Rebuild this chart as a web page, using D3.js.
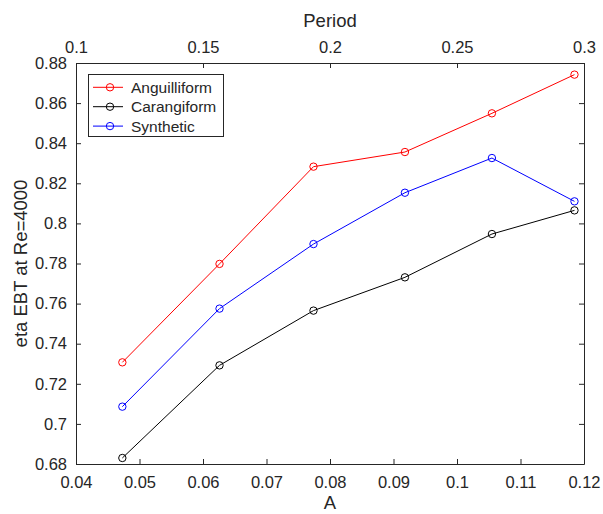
<!DOCTYPE html>
<html><head><meta charset="utf-8">
<script src="https://cdn.jsdelivr.net/npm/d3@7"></script>
<style>body{margin:0;background:#fff}svg{display:block}text{font-family:"Liberation Sans",Arial,sans-serif;fill:#262626}</style>
</head><body>
<script>
const aValues = [0.0473, 0.0626, 0.0774, 0.0918, 0.1055, 0.1185];
const anguilliform = [0.7307, 0.7798, 0.8283, 0.8356, 0.8549, 0.8742];
const carangiform = [0.6830, 0.7292, 0.7565, 0.7731, 0.7947, 0.8065];
const synthetic = [0.7086, 0.7575, 0.7897, 0.8153, 0.8326, 0.8110];
const seriesNames = ["Anguilliform", "Carangiform", "Synthetic"];
const seriesColors = ["#ff0000", "#000000", "#0000ff"];
const xTicks = [0.04, 0.05, 0.06, 0.07, 0.08, 0.09, 0.1, 0.11, 0.12];
const xTickLabels = ["0.04","0.05","0.06","0.07","0.08","0.09","0.1","0.11","0.12"];
const periodTicks = [0.1, 0.15, 0.2, 0.25, 0.3];
const periodTickLabels = ["0.1","0.15","0.2","0.25","0.3"];
const yTicks = [0.68,0.70,0.72,0.74,0.76,0.78,0.80,0.82,0.84,0.86,0.88];
const yTickLabels = ["0.68","0.7","0.72","0.74","0.76","0.78","0.8","0.82","0.84","0.86","0.88"];

const W = 603, H = 514;
const L = 76, R = 584, T = 63, B = 464;
const svg = d3.select("body").append("svg").attr("width", W).attr("height", H);
const x = d3.scaleLinear().domain([0.04, 0.12]).range([L, R]);
const xp = d3.scaleLinear().domain([0.1, 0.3]).range([L, R]);
const y = d3.scaleLinear().domain([0.68, 0.88]).range([B, T]);
const axisColor = "#262626";
const tickFont = "16.5px";

function styleAxis(g) {
  g.selectAll("path").attr("stroke", axisColor).attr("stroke-width", 1);
  g.selectAll("line").attr("stroke", axisColor).attr("stroke-width", 1);
  g.selectAll("text").style("font-size", tickFont).attr("fill", axisColor);
}
const fmt = (labels, ticks) => (d) => labels[ticks.findIndex(t => Math.abs(t - d) < 1e-9)];

svg.append("g").attr("transform", `translate(0,${B})`)
  .call(d3.axisBottom(x).tickValues(xTicks).tickFormat(fmt(xTickLabels, xTicks)).tickSizeInner(-5).tickSizeOuter(0).tickPadding(12))
  .call(styleAxis);
svg.append("g").attr("transform", `translate(0,${T})`)
  .call(d3.axisTop(xp).tickValues(periodTicks).tickFormat(fmt(periodTickLabels, periodTicks)).tickSizeInner(-5).tickSizeOuter(0).tickPadding(10))
  .call(styleAxis);
svg.append("g").attr("transform", `translate(${L},0)`)
  .call(d3.axisLeft(y).tickValues(yTicks).tickFormat(fmt(yTickLabels, yTicks)).tickSizeInner(-5).tickSizeOuter(0).tickPadding(9))
  .call(styleAxis);
svg.append("g").attr("transform", `translate(${R},0)`)
  .call(d3.axisRight(y).tickValues(yTicks).tickFormat("").tickSizeInner(-5).tickSizeOuter(0))
  .call(styleAxis);

svg.append("text").attr("x", 330).attr("y", 509).attr("text-anchor", "middle")
  .style("font-size", "18.5px").text("A");
svg.append("text").attr("x", (L + R) / 2).attr("y", 27).attr("text-anchor", "middle")
  .style("font-size", "18.5px").text("Period");
svg.append("text").attr("transform", `translate(27,${(T + B) / 2}) rotate(-90)`).attr("text-anchor", "middle")
  .style("font-size", "18.5px").text("eta EBT at Re=4000");

const allSeries = [anguilliform, carangiform, synthetic];
const line = d3.line().x((d, i) => x(aValues[i])).y(d => y(d));
allSeries.forEach((s, k) => {
  const g = svg.append("g");
  g.append("path").datum(s).attr("d", line).attr("fill", "none")
    .attr("stroke", seriesColors[k]).attr("stroke-width", 1);
  g.selectAll("circle").data(s).join("circle")
    .attr("cx", (d, i) => x(aValues[i])).attr("cy", d => y(d)).attr("r", 3.7)
    .attr("fill", "none").attr("stroke", seriesColors[k]).attr("stroke-width", 1);
});

const lg = svg.append("g");
lg.append("rect").attr("x", 88.5).attr("y", 74.5).attr("width", 135).attr("height", 62)
  .attr("fill", "#fff").attr("stroke", axisColor).attr("stroke-width", 1);
seriesNames.forEach((n, k) => {
  const yy = 87.3 + k * 19.4;
  lg.append("line").attr("x1", 93).attr("x2", 123).attr("y1", yy).attr("y2", yy)
    .attr("stroke", seriesColors[k]).attr("stroke-width", 1);
  lg.append("circle").attr("cx", 110).attr("cy", yy).attr("r", 3.7).attr("fill", "none")
    .attr("stroke", seriesColors[k]).attr("stroke-width", 1);
  lg.append("text").attr("x", 131).attr("y", yy + 5.5)
    .style("font-size", "15.5px").text(n);
});
</script>
</body></html>
